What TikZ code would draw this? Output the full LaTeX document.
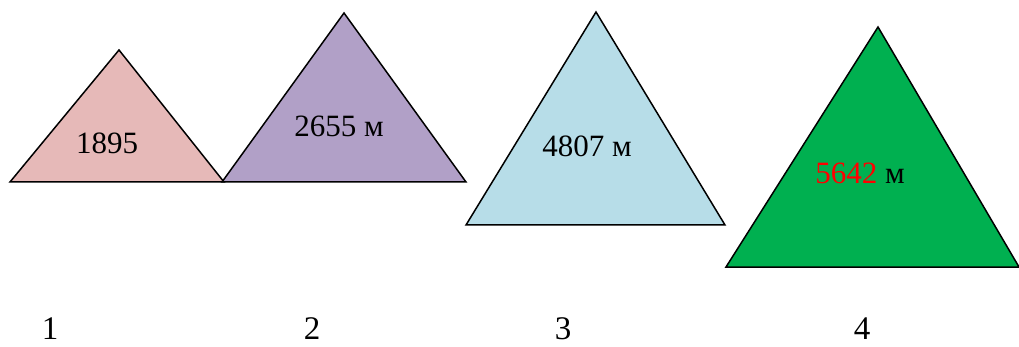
\documentclass[tikz,border=0pt]{standalone}
\usepackage{fontspec}
\setmainfont{Liberation Serif}
\definecolor{peakpink}{HTML}{E6B9B8}
\definecolor{peakviolet}{HTML}{B1A0C7}
\definecolor{peakblue}{HTML}{B7DDE8}
\definecolor{peakgreen}{HTML}{00B050}
\definecolor{hred}{HTML}{FF0000}
\tikzset{
  peak/.style={draw=black, line width=1.5pt, line join=miter},
  hlabel/.style={font=\fontsize{31}{31}\selectfont, inner sep=0pt},
  numlabel/.style={font=\fontsize{33}{33}\selectfont, anchor=base, inner sep=0pt},
}
\begin{document}
\begin{tikzpicture}[x=1pt, y=-1pt]
  \useasboundingbox (0,0) rectangle (1019,347);
  % mountains: colour / apex / base left / base right / base y
  \foreach \c/\ax/\ay/\lx/\rx/\by in {peakpink/119/50/10/224/182, peakviolet/344/13/222/466/182, peakblue/596/12/466/725/225, peakgreen/878/27/726/1019/267}
    \filldraw[peak, fill=\c] (\ax,\ay) -- (\rx,\by) -- (\lx,\by) -- cycle;
  \node[hlabel] (h1) at (107,143) {1895};
  \node[hlabel] (h2) at (339,126) {2655 м};
  \node[hlabel] (h3) at (587,146) {4807 м};
  \node[hlabel] (h4) at (860,173) {\textcolor{hred}{5642} м};
  \foreach \n/\x in {1/50, 2/312, 3/563, 4/862}
    \node[numlabel] (n\n) at (\x,339) {\n};
\end{tikzpicture}
\end{document}
